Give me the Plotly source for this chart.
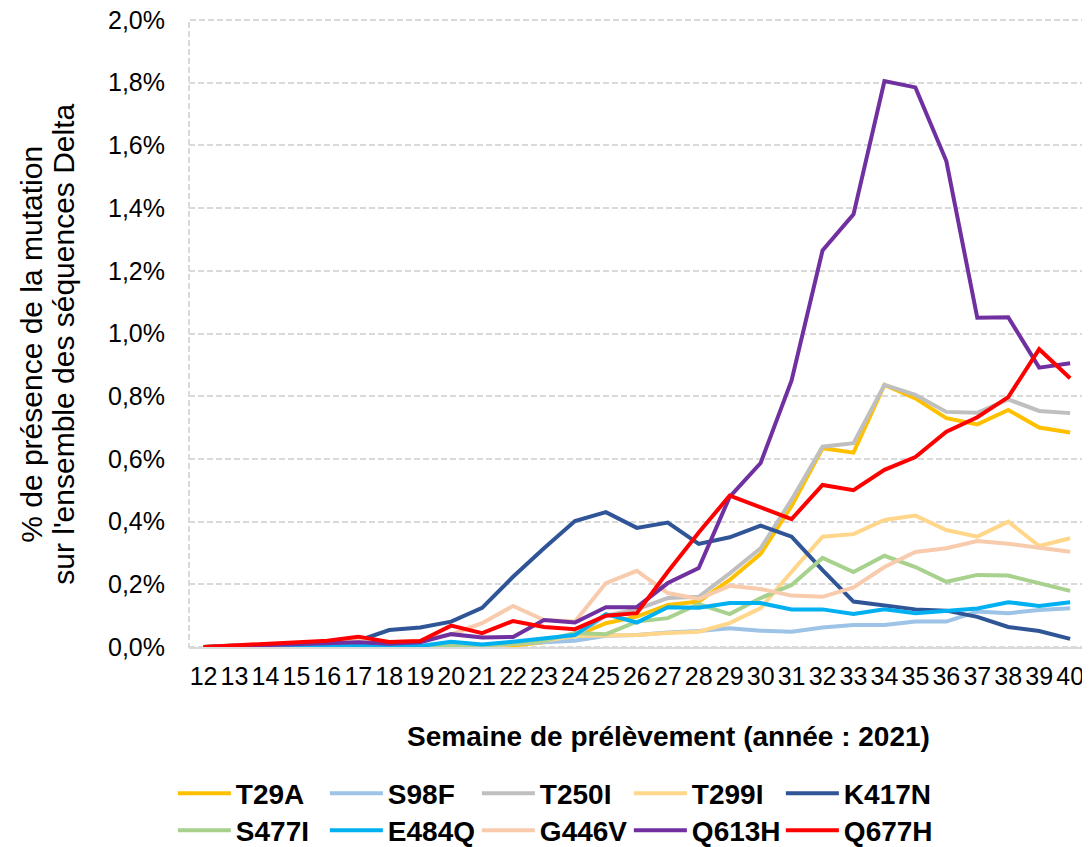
import plotly.graph_objects as go

weeks = list(range(12, 41))
week_labels = [str(w) for w in weeks]

T29A  = [0, 0, 0, 0, 0, 0, 0, 0, 0, 0, 0.005, 0.015, 0.035, 0.076, 0.097, 0.134, 0.145, 0.214, 0.297, 0.45, 0.634, 0.62, 0.836, 0.793, 0.73, 0.71, 0.756, 0.70, 0.684]
S98F  = [0, 0, 0, 0, 0, 0, 0, 0, 0.003, 0.005, 0.01, 0.015, 0.02, 0.036, 0.038, 0.046, 0.051, 0.06, 0.052, 0.049, 0.062, 0.07, 0.07, 0.081, 0.081, 0.113, 0.108, 0.118, 0.124]
T250I = [0, 0, 0, 0, 0, 0, 0, 0, 0.01, 0.005, 0.01, 0.02, 0.035, 0.1, 0.12, 0.156, 0.16, 0.235, 0.315, 0.47, 0.639, 0.65, 0.836, 0.804, 0.75, 0.747, 0.79, 0.753, 0.746]
T299I = [0, 0, 0, 0, 0, 0, 0, 0, 0, 0, 0.01, 0.02, 0.035, 0.038, 0.038, 0.045, 0.049, 0.076, 0.124, 0.24, 0.352, 0.36, 0.405, 0.419, 0.373, 0.352, 0.40, 0.322, 0.347]
K417N = [0, 0.005, 0.005, 0.008, 0.01, 0.02, 0.054, 0.062, 0.081, 0.125, 0.224, 0.315, 0.402, 0.43, 0.38, 0.397, 0.329, 0.35, 0.387, 0.352, 0.245, 0.145, 0.134, 0.12, 0.116, 0.096, 0.064, 0.051, 0.026]
S477I = [0, 0, 0, 0, 0, 0, 0, 0, 0.005, 0.005, 0.01, 0.02, 0.045, 0.041, 0.081, 0.092, 0.137, 0.105, 0.156, 0.198, 0.284, 0.239, 0.291, 0.255, 0.208, 0.23, 0.228, 0.204, 0.179]
E484Q = [0, 0.002, 0.003, 0.005, 0.005, 0.005, 0.005, 0.003, 0.017, 0.008, 0.017, 0.028, 0.038, 0.105, 0.078, 0.127, 0.125, 0.14, 0.14, 0.12, 0.12, 0.105, 0.12, 0.108, 0.116, 0.123, 0.143, 0.131, 0.143]
G446V = [0, 0.005, 0.008, 0.01, 0.015, 0.02, 0.015, 0.02, 0.04, 0.076, 0.131, 0.086, 0.081, 0.204, 0.243, 0.172, 0.153, 0.195, 0.185, 0.164, 0.16, 0.19, 0.255, 0.303, 0.315, 0.338, 0.329, 0.315, 0.304]
Q613H = [0, 0.003, 0.005, 0.008, 0.01, 0.015, 0.01, 0.015, 0.041, 0.03, 0.032, 0.086, 0.078, 0.127, 0.127, 0.204, 0.252, 0.479, 0.587, 0.85, 1.265, 1.38, 1.805, 1.785, 1.55, 1.05, 1.052, 0.891, 0.905]
Q677H = [0, 0.005, 0.01, 0.015, 0.02, 0.033, 0.016, 0.019, 0.068, 0.044, 0.083, 0.064, 0.057, 0.10, 0.108, 0.24, 0.365, 0.483, 0.444, 0.408, 0.517, 0.50, 0.565, 0.606, 0.687, 0.733, 0.797, 0.95, 0.857]

series_names = ["T29A", "S98F", "T250I", "T299I", "K417N", "S477I", "E484Q", "G446V", "Q613H", "Q677H"]
series_values = [T29A, S98F, T250I, T299I, K417N, S477I, E484Q, G446V, Q613H, Q677H]
colors = ["#FFC000", "#9DC3E6", "#BFBFBF", "#FFD68A", "#2F5597",
          "#A9D18E", "#00B0F0", "#F8CBAD", "#7030A0", "#FF0000"]

y_ticks = [0, 0.2, 0.4, 0.6, 0.8, 1.0, 1.2, 1.4, 1.6, 1.8, 2.0]
y_tick_labels = ["0,0%", "0,2%", "0,4%", "0,6%", "0,8%", "1,0%", "1,2%", "1,4%", "1,6%", "1,8%", "2,0%"]

x_title = "Semaine de prélèvement (année : 2021)"
y_title_lines = ["% de présence de la mutation", "sur l'ensemble des séquences Delta"]

FONT = "Liberation Sans, Arial, sans-serif"

fig = go.Figure()
for i, (name, vals, col) in enumerate(zip(series_names, series_values, colors)):
    fig.add_trace(go.Scatter(
        x=weeks, y=vals, name=name, mode="lines",
        line=dict(color=col, width=4),
        legend="legend" if i < 5 else "legend2",
    ))

legend_common = dict(
    orientation="h", xanchor="left", yanchor="top",
    font=dict(family=FONT, size=28, color="black", weight="bold"),
    entrywidth=84, entrywidthmode="pixels",
    itemwidth=53, bgcolor="rgba(0,0,0,0)",
)

# page body has an 8px margin, so the figure is sized / offset to compensate
fig.update_layout(
    width=1082, height=839,
    margin=dict(l=181, r=5, t=12, b=200, autoexpand=False),
    paper_bgcolor="white", plot_bgcolor="white",
    font=dict(family=FONT, color="black"),
    showlegend=True,
    legend=dict(x=-0.018, y=-0.194, **legend_common),
    legend2=dict(x=-0.018, y=-0.253, **legend_common),
)

fig.update_xaxes(
    range=[11.53, 40.48], automargin=False,
    tickmode="array", tickvals=weeks, ticktext=week_labels,
    tickangle=0,
    tickfont=dict(family=FONT, size=25, color="black"),
    showgrid=False, zeroline=False,
    showline=True, linecolor="#D9D9D9", linewidth=2,
    ticks="", ticklabelstandoff=6, ticklabeloverflow="allow",
)

fig.update_yaxes(
    range=[0, 2.0], automargin=False,
    tickmode="array", tickvals=y_ticks, ticktext=y_tick_labels,
    tickfont=dict(family=FONT, size=25, color="black"),
    showgrid=True, gridcolor="#D9D9D9", gridwidth=2, griddash="6px,3px",
    zeroline=False, showline=False, ticks="", ticklabelstandoff=23,
    ticklabeloverflow="allow",
)

# axis titles as annotations (precise placement of each line)
fig.add_annotation(text=x_title, xref="paper", yref="paper",
                   x=0.5357, y=-0.1435, xanchor="center", yanchor="middle",
                   showarrow=False,
                   font=dict(family=FONT, size=28, color="black", weight="bold"))
fig.add_annotation(text=y_title_lines[0], xref="paper", yref="paper",
                   x=-0.1752, y=0.482, xanchor="center", yanchor="middle",
                   textangle=-90, showarrow=False,
                   font=dict(family=FONT, size=30, color="black"))
fig.add_annotation(text=y_title_lines[1], xref="paper", yref="paper",
                   x=-0.1395, y=0.482, xanchor="center", yanchor="middle",
                   textangle=-90, showarrow=False,
                   font=dict(family=FONT, size=30, color="black"))

# dashed frame around the plot area (left, top, right)
fig.add_shape(type="rect", xref="paper", yref="paper", x0=0, x1=1, y0=0, y1=1,
              line=dict(color="#D9D9D9", width=2, dash="6px,3px"), layer="below")

fig.write_html("out.html")
